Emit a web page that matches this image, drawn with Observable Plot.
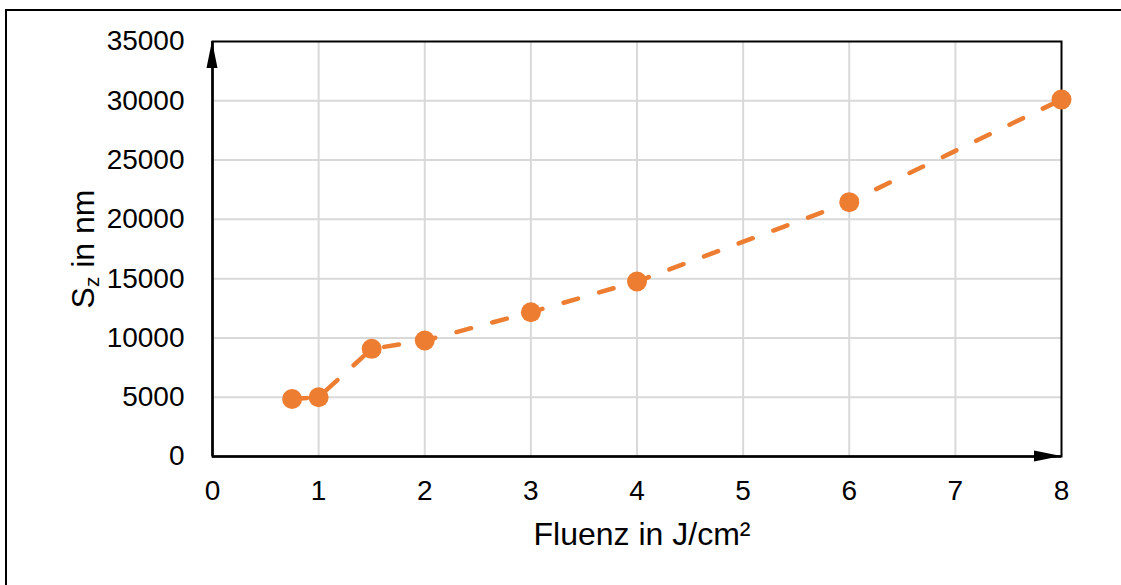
<!DOCTYPE html>
<html><head><meta charset="utf-8">
<script src="https://cdn.jsdelivr.net/npm/d3@7"></script>
<script src="https://cdn.jsdelivr.net/npm/@observablehq/plot@0.6"></script>
<style>
html,body{margin:0;padding:0;background:#fff;overflow:hidden;width:1121px;height:585px;}
#border{position:absolute;left:5px;top:9px;width:2000px;height:2000px;border:2px solid #000;box-sizing:border-box;}
#chart{position:absolute;left:0;top:0;}
</style></head><body>
<div id="border"></div><div id="chart"></div>
<script>
const fluence = [0.75, 1, 1.5, 2, 3, 4, 6, 8];
const sz = [4850, 5000, 9080, 9780, 12170, 14760, 21450, 30100];
const xTicks = [0, 1, 2, 3, 4, 5, 6, 7, 8];
const yTicks = [0, 5000, 10000, 15000, 20000, 25000, 30000, 35000];
const xLabel = "Fluenz in J/cm²";
const yLabel = "Sz in nm";

const data = fluence.map((x, i) => ({x, y: sz[i]}));
const orange = "#ED7D31";

const plot = Plot.plot({
  width: 1121,
  height: 585,
  marginLeft: 212,
  marginRight: 60,
  marginTop: 41,
  marginBottom: 129,
  style: {fontFamily: "'Liberation Sans', Arial, sans-serif", color: "#000", background: "transparent", overflow: "visible"},
  x: {domain: [0, 8]},
  y: {domain: [0, 35000]},
  marks: [
    Plot.gridX(xTicks.slice(1, -1), {stroke: "#d9d9d9", strokeOpacity: 1, strokeWidth: 2}),
    Plot.gridY(yTicks.slice(1, -1), {stroke: "#d9d9d9", strokeOpacity: 1, strokeWidth: 2}),
    Plot.frame({stroke: "#000", strokeWidth: 2}),
    Plot.ruleY([0], {stroke: "#000", strokeWidth: 2.5}),
    Plot.ruleX([0], {stroke: "#000", strokeWidth: 2.5}),
    Plot.axisX({ticks: xTicks, tickSize: 0, tickPadding: 24, fontSize: 28, label: null, tickFormat: d => String(d)}),
    Plot.axisY({ticks: yTicks, tickSize: 0, tickPadding: 28, fontSize: 28, label: null, tickFormat: d => String(d)}),
    Plot.line(data, {x: "x", y: "y", stroke: orange, strokeWidth: 4.5, strokeDasharray: "15,22", strokeLinecap: "round"}),
    Plot.dot(data, {x: "x", y: "y", r: 10, fill: orange, stroke: "none"}),
    Plot.text([xLabel], {text: d => d, frameAnchor: "bottom", dy: 88, dx: 5, lineAnchor: "bottom", fontSize: 32, fill: "#000"}),
    Plot.text([yLabel], {text: d => d, frameAnchor: "left", dx: -119, rotate: -90, lineAnchor: "bottom", textAnchor: "middle", fontSize: 32, fill: "#000"})
  ]
});

// subscript z in the y label
d3.select(plot).selectAll("text").each(function() {
  if (this.textContent === yLabel) {
    const t = d3.select(this);
    t.text(null);
    t.append("tspan").text("S");
    t.append("tspan").attr("baseline-shift", "-25%").attr("font-size", "65%").text("z");
    t.append("tspan").text(" in nm");
  }
});

// filled arrowheads on the axes
const sx = plot.scale("x"), sy = plot.scale("y");
const x0 = sx.apply(0), x1 = sx.apply(8), y0 = sy.apply(0), y1 = sy.apply(35000);
const g = d3.select(plot).append("g").attr("fill", "#000");
g.append("path").attr("d", `M${x0},${y1}L${x0 - 5.5},${y1 + 27}L${x0 + 5.5},${y1 + 27}Z`);
g.append("path").attr("d", `M${x1},${y0}L${x1 - 27},${y0 - 5.5}L${x1 - 27},${y0 + 5.5}Z`);

document.getElementById("chart").appendChild(plot);
</script>
</body></html>
